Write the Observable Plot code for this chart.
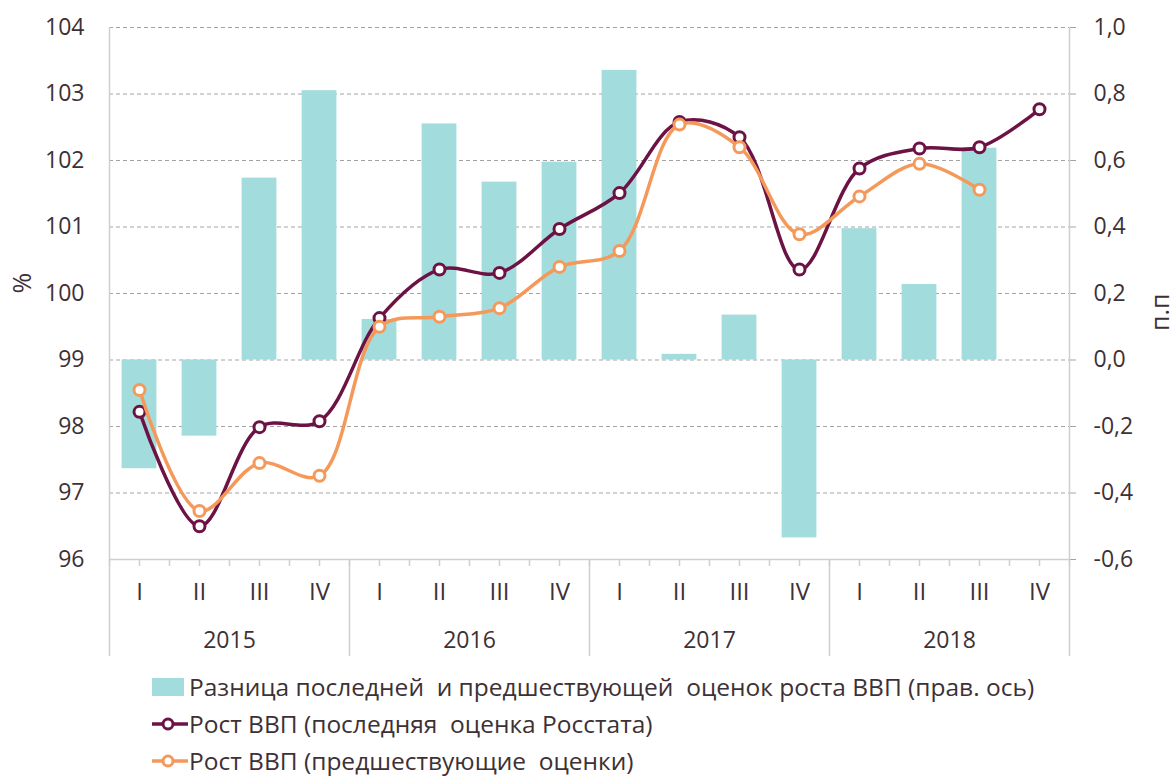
<!DOCTYPE html>
<html>
<head>
<meta charset="utf-8">
<script src="https://cdn.jsdelivr.net/npm/d3@7"></script>
<script src="https://cdn.jsdelivr.net/npm/@observablehq/plot@0.6"></script>
<style>
  html, body { margin: 0; padding: 0; background: #fff; }
  body { width: 1175px; height: 778px; overflow: hidden; font-family: "Open Sans", sans-serif; color: #3d3135; }
  #legend { margin-left: 152px; margin-top: 3px; font-size: 24.5px; line-height: 1.2; }
  .row { height: 37px; display: flex; align-items: center; white-space: pre; }
  .row svg { margin-right: 1px; }
</style>
</head>
<body>
<div id="chart"></div>
<div id="legend"></div>
<script>
const years = ["2015", "2016", "2017", "2018"];
const quarters = ["I", "II", "III", "IV"];
// difference between latest and previous estimates, p.p. (right axis)
const diff = [-0.327, -0.229, 0.547, 0.81, 0.122, 0.71, 0.535, 0.595, 0.871, 0.017, 0.135, -0.535, 0.395, 0.227, 0.637, null];
// GDP growth, latest Rosstat estimate, %
const rosstat = [98.22, 96.50, 97.99, 98.08, 99.63, 100.36, 100.31, 100.97, 101.51, 102.58, 102.35, 100.36, 101.88, 102.18, 102.20, 102.77];
// GDP growth, previous estimates, %
const previous = [98.55, 96.73, 97.45, 97.26, 99.50, 99.65, 99.78, 100.40, 100.64, 102.54, 102.20, 100.89, 101.46, 101.95, 101.56, null];
const leftTicks = [96, 97, 98, 99, 100, 101, 102, 103, 104];
const rightTicks = [-0.6, -0.4, -0.2, 0.0, 0.2, 0.4, 0.6, 0.8, 1.0];

const legendLabels = [
  "Разница последней  и предшествующей  оценок роста ВВП (прав. ось)",
  "Рост ВВП (последняя  оценка Росстата)",
  "Рост ВВП (предшествующие  оценки)"
];

const colors = { bar: "#a2dcdc", rosstat: "#6d1244", previous: "#f5995b", text: "#3d3135", grid: "#a3a3a3", axis: "#cfcfcf" };

// right axis (p.p.) mapped onto the left scale: 0 -> 99, 0.2 -> 100
const toLeft = v => 99 + v * 5;

const rows = [];
years.forEach((yr, yi) => quarters.forEach((q, qi) => {
  const i = yi * 4 + qi;
  rows.push({ i, year: yr, q, diff: diff[i], rosstat: rosstat[i], previous: previous[i] });
}));
const yearRows = years.map((yr, yi) => ({ year: yr, x: yi * 4 + 1.5 }));
const halfTicks = d3.range(-0.5, 15.51, 0.5);
const yearSeps = [-0.5, 3.5, 7.5, 11.5, 15.5];

const fnt = "Open Sans, sans-serif";

const plot = Plot.plot({
  width: 1175,
  height: 665,
  marginLeft: 109,
  marginRight: 106,
  marginTop: 27,
  marginBottom: 106,
  style: { fontFamily: fnt, fontSize: "23px", color: colors.text, background: "#fff" },
  x: { type: "linear", domain: [-0.5, 15.5], axis: null },
  y: { domain: [96, 104], axis: null },
  marks: [
    Plot.gridY(leftTicks.filter(t => t > 96), { stroke: colors.grid, strokeOpacity: 1, strokeWidth: 1, strokeDasharray: "4,3" }),
    Plot.rectY(rows.filter(d => d.diff != null), {
      x1: d => d.i - 0.29, x2: d => d.i + 0.29,
      y1: () => toLeft(0), y2: d => toLeft(d.diff),
      fill: colors.bar
    }),
    // left axis
    Plot.axisY(leftTicks, { anchor: "left", tickSize: 0, tickPadding: 25, fontSize: 23, fill: colors.text, label: null, tickFormat: d => String(d) }),
    // right axis (p.p.)
    Plot.axisY(rightTicks.map(toLeft), {
      anchor: "right", tickSize: 6, stroke: colors.grid, tickPadding: 18, fontSize: 23, fill: colors.text, label: null,
      tickFormat: t => ((t - 99) / 5).toFixed(1).replace(".", ",")
    }),
    // bottom axis line and frame sides
    Plot.ruleY([96], { stroke: colors.axis, strokeWidth: 1.5 }),
    Plot.ruleX([-0.5, 15.5], { stroke: colors.axis, strokeWidth: 1.5 }),
    // small category ticks
    Plot.axisX(halfTicks, { anchor: "bottom", tickSize: 7, stroke: colors.axis, strokeWidth: 1.5, tickFormat: () => "", label: null }),
    // year separators
    Plot.axisX(yearSeps, { anchor: "bottom", tickSize: 97, stroke: colors.axis, strokeWidth: 1.5, tickFormat: () => "", label: null }),
    // quarter labels
    Plot.text(rows, { x: "i", text: "q", frameAnchor: "bottom", lineAnchor: "middle", dy: 33, fontSize: 24, fill: colors.text }),
    // year labels
    Plot.text(yearRows, { x: "x", text: "year", frameAnchor: "bottom", lineAnchor: "middle", dy: 81, fontSize: 23, fill: colors.text }),
    // lines
    Plot.line(rows, { x: "i", y: "rosstat", curve: "catmull-rom", stroke: colors.rosstat, strokeWidth: 3.5 }),
    Plot.dot(rows, { x: "i", y: "rosstat", r: 5.5, fill: "#fff", stroke: colors.rosstat, strokeWidth: 3 }),
    Plot.line(rows.filter(d => d.previous != null), { x: "i", y: "previous", curve: "catmull-rom", stroke: colors.previous, strokeWidth: 3.5 }),
    Plot.dot(rows.filter(d => d.previous != null), { x: "i", y: "previous", r: 5.5, fill: "#fff", stroke: colors.previous, strokeWidth: 3 }),
    // axis titles
    Plot.text(["%"], { frameAnchor: "left", dx: -87, rotate: -90, fontSize: 25, fill: colors.text }),
    Plot.text(["п.п"], { frameAnchor: "right", dx: 91, rotate: -90, fontSize: 25, fill: colors.text })
  ]
});
document.getElementById("chart").appendChild(plot);

// legend
const legend = d3.select("#legend");
const sw = [
  s => s.append("rect").attr("x", 0).attr("y", 3).attr("width", 32).attr("height", 18).attr("fill", colors.bar),
  s => { s.append("line").attr("x1", 0).attr("x2", 36).attr("y1", 12).attr("y2", 12).attr("stroke", colors.rosstat).attr("stroke-width", 3.5);
         s.append("circle").attr("cx", 16).attr("cy", 12).attr("r", 5).attr("fill", "#fff").attr("stroke", colors.rosstat).attr("stroke-width", 3); },
  s => { s.append("line").attr("x1", 0).attr("x2", 36).attr("y1", 12).attr("y2", 12).attr("stroke", colors.previous).attr("stroke-width", 3.5);
         s.append("circle").attr("cx", 16).attr("cy", 12).attr("r", 5).attr("fill", "#fff").attr("stroke", colors.previous).attr("stroke-width", 3); }
];
legendLabels.forEach((lab, k) => {
  const row = legend.append("div").attr("class", "row");
  const s = row.append("svg").attr("width", 36).attr("height", 24);
  sw[k](s);
  row.append("span").text(lab);
});
</script>
</body>
</html>
